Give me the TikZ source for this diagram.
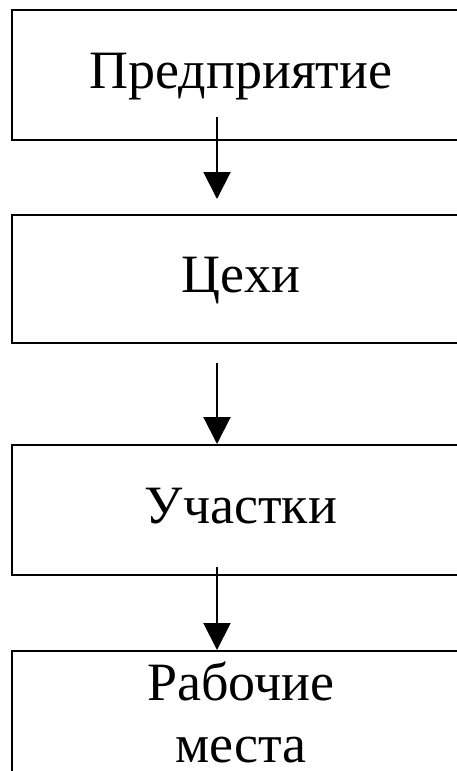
\documentclass[tikz,border=0pt]{standalone}
\usepackage{fontspec}
\setmainfont{Liberation Serif}
\usetikzlibrary{arrows.meta}
\tikzset{
  level/.style={draw, line width=2pt, minimum width=458pt, inner sep=0pt,
    font=\fontsize{54}{62}\selectfont},
  oneline/.style={minimum height=130pt, text height=37pt, text depth=11pt},
  flow/.style={line width=2pt, -{Triangle[width=27pt, length=27pt]}}
}
\begin{document}
\begin{tikzpicture}[x=1pt, y=-1pt]
  %%%%% START %%%%%
  \useasboundingbox (0, 0) rectangle (457, 771);

  \node[level, oneline] (firm) at (241, 75) {Предприятие};
  \node[level, oneline, minimum height=128pt] (shops) at (241, 279) {Цехи};
  \node[level, oneline] (sites) at (241, 510) {Участки};
  \node[level, minimum height=122pt, align=center] (posts) at (241, 712) {Рабочие\\места};

  \coordinate (a1) at (217, 117);
  \coordinate (a2) at (217, 363);
  \coordinate (a3) at (217, 567);

  \draw[flow, shorten >=15pt] (a1) -- (a1 |- shops.north);
  \draw[flow] (a2) -- (a2 |- sites.north);
  \draw[flow] (a3) -- (a3 |- posts.north);
  %%%%% END %%%%%
\end{tikzpicture}
\end{document}
